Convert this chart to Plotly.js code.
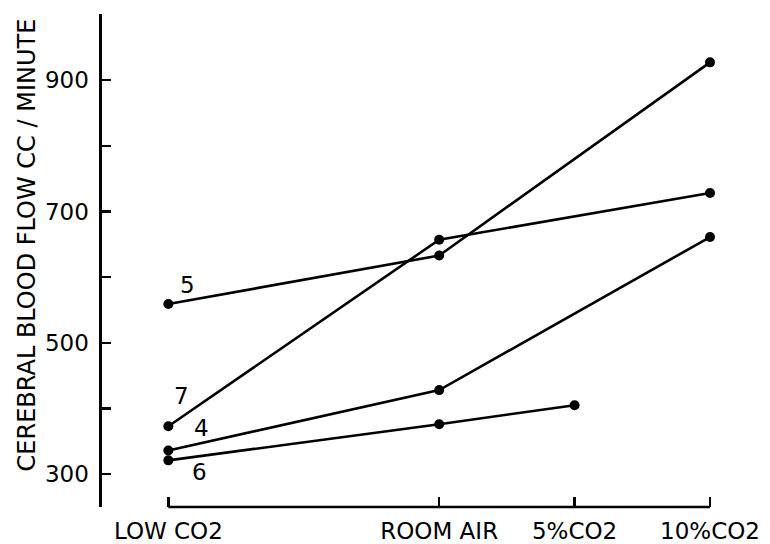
<!DOCTYPE html>
<html>
<head>
<meta charset="utf-8">
<script src="https://cdn.plot.ly/plotly-3.0.1.min.js"></script>
<style>html,body{margin:0;padding:0;background:#fff;}#chart{width:770px;height:544px;}</style>
</head>
<body>
<div id="chart"></div>
<script>
// Conditions (x axis categories) and their positions on the scale
var categories = ["LOW CO2", "ROOM AIR", "5%CO2", "10%CO2"];
var categoryPos = [0, 2, 3, 4];

// Cerebral blood flow, cc / minute, per subject (null = not measured)
var subjectLabels = ["5", "7", "4", "6"];
var subject5 = [559, 633, null, 927];
var subject7 = [373, 657, null, 728];
var subject4 = [336, 428, null, 661];
var subject6 = [321, 376, 405, null];

// y axis ticks (labels every 200, tick marks every 100)
var yTickVals = [300, 400, 500, 600, 700, 800, 900, 1000];
var yTickText = ["300", "", "500", "", "700", "", "900", ""];

var series = [subject5, subject7, subject4, subject6];
var labelShift = [[19, 19], [13, 30], [33, 23], [31, -12]];
var FONT = "DejaVu Sans";

var traces = series.map(function (vals, i) {
  return {
    x: categoryPos, y: vals, type: "scatter", mode: "lines+markers",
    connectgaps: true, name: subjectLabels[i],
    line: {color: "#000", width: 2.6},
    marker: {color: "#000", size: 10}
  };
});

var annotations = series.map(function (vals, i) {
  return {
    x: categoryPos[0], y: vals[0], xref: "x", yref: "y",
    text: subjectLabels[i], showarrow: false,
    xshift: labelShift[i][0], yshift: labelShift[i][1],
    font: {family: FONT, size: 23, color: "#000"}
  };
});
annotations.push({
  text: "CEREBRAL BLOOD FLOW CC / MINUTE", textangle: -90,
  xref: "paper", yref: "paper", x: -0.115, y: 0.531,
  xanchor: "center", yanchor: "middle", showarrow: false,
  font: {family: FONT, size: 24, color: "#000"}
});

var layout = {
  width: 770, height: 544,
  margin: {l: 102, r: 18, t: 14, b: 37},
  paper_bgcolor: "#fff", plot_bgcolor: "#fff",
  showlegend: false,
  font: {family: FONT, color: "#000"},
  xaxis: {
    range: [-0.49, 4.31], showgrid: false, zeroline: false, showline: false,
    tickmode: "array", tickvals: categoryPos, ticktext: categories,
    ticks: "inside", ticklen: 10, tickwidth: 2.5, tickcolor: "#000",
    tickfont: {family: FONT, size: 23, color: "#000"},
    ticklabelstandoff: 8
  },
  yaxis: {
    range: [250, 1000.6], showgrid: false, zeroline: false,
    showline: true, linecolor: "#000", linewidth: 2.6,
    tickmode: "array", tickvals: yTickVals, ticktext: yTickText,
    ticks: "inside", ticklen: 9, tickwidth: 2.5, tickcolor: "#000",
    tickfont: {family: FONT, size: 23, color: "#000"},
    ticklabelstandoff: 6
  },
  shapes: [{
    type: "line", xref: "x", yref: "paper",
    x0: categoryPos[0], x1: categoryPos[categoryPos.length - 1], y0: 0, y1: 0,
    line: {color: "#000", width: 2.6}
  }],
  annotations: annotations
};

Plotly.newPlot("chart", traces, layout, {displayModeBar: false, staticPlot: true});
</script>
</body>
</html>
